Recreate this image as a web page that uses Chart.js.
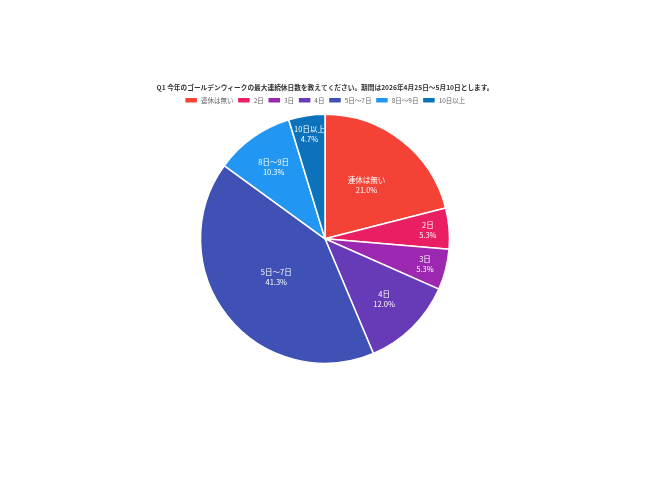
<!DOCTYPE html>
<html lang="ja">
<head>
<meta charset="utf-8">
<title>GW 最大連続休日数</title>
<script src="https://cdn.jsdelivr.net/npm/chart.js@4.4.1/dist/chart.umd.min.js"></script>
<style>
    html, body { margin: 0; padding: 0; background: #fff; }
    #wrap { width: 650px; height: 488px; }
</style>
</head>
<body>
<div id="wrap"><canvas id="pieChart" width="650" height="488"></canvas></div>
<script>
const chartTitle = 'Q1 今年のゴールデンウィークの最大連続休日数を教えてください。期間は2026年4月25日～5月10日とします。';
const categories = ['連休は無い', '2日', '3日', '4日', '5日～7日', '8日～9日', '10日以上'];
const shares = [21.0, 5.3, 5.3, 12.0, 41.3, 10.3, 4.7];
const sliceColors = ['#f44336', '#e91e63', '#9c27b0', '#673ab7', '#3f51b5', '#2196f3', '#0b72bb'];

const fontFamily = '"Noto Sans CJK JP", "Noto Sans", sans-serif';

// Draw "label / xx.x%" inside each slice, centred on the slice's inscribed circle
const sliceLabels = {
    id: 'sliceLabels',
    afterDatasetsDraw(chart) {
        const ctx = chart.ctx;
        const meta = chart.getDatasetMeta(0);
        ctx.save();
        ctx.fillStyle = '#ffffff';
        ctx.font = '7.5px ' + fontFamily;
        ctx.textAlign = 'center';
        ctx.textBaseline = 'middle';
        meta.data.forEach((arc, i) => {
            const p = arc.getProps(['x', 'y', 'startAngle', 'endAngle', 'outerRadius']);
            const mid = (p.startAngle + p.endAngle) / 2;
            const half = (p.endAngle - p.startAngle) / 2;
            const s = Math.sin(Math.min(half, Math.PI / 2));
            const inscribed = Math.min(1.2 * s / (1 + s), 0.5);
            const d = p.outerRadius * (1 - inscribed);
            const cx = p.x + Math.cos(mid) * d;
            const cy = p.y + Math.sin(mid) * d;
            ctx.fillText(categories[i], cx, cy - 5);
            ctx.fillText(shares[i].toFixed(1) + '%', cx, cy + 5);
        });
        ctx.restore();
    }
};

new Chart(document.getElementById('pieChart'), {
    type: 'pie',
    data: {
        labels: categories,
        datasets: [{
            data: shares,
            backgroundColor: sliceColors,
            borderColor: '#ffffff',
            borderWidth: 1.5
        }]
    },
    options: {
        responsive: false,
        animation: false,
        layout: { padding: { top: 83, bottom: 124, left: 0, right: 0 } },
        plugins: {
            title: {
                display: true,
                text: chartTitle,
                color: '#333333',
                font: { family: fontFamily, size: 6.7, weight: 'bold' },
                padding: { top: 0, bottom: 2 }
            },
            legend: {
                position: 'top',
                labels: {
                    boxWidth: 13,
                    boxHeight: 6,
                    padding: 4,
                    color: '#666666',
                    font: { family: fontFamily, size: 6.5 }
                }
            },
            tooltip: { enabled: false }
        }
    },
    plugins: [sliceLabels]
});
</script>
</body>
</html>
